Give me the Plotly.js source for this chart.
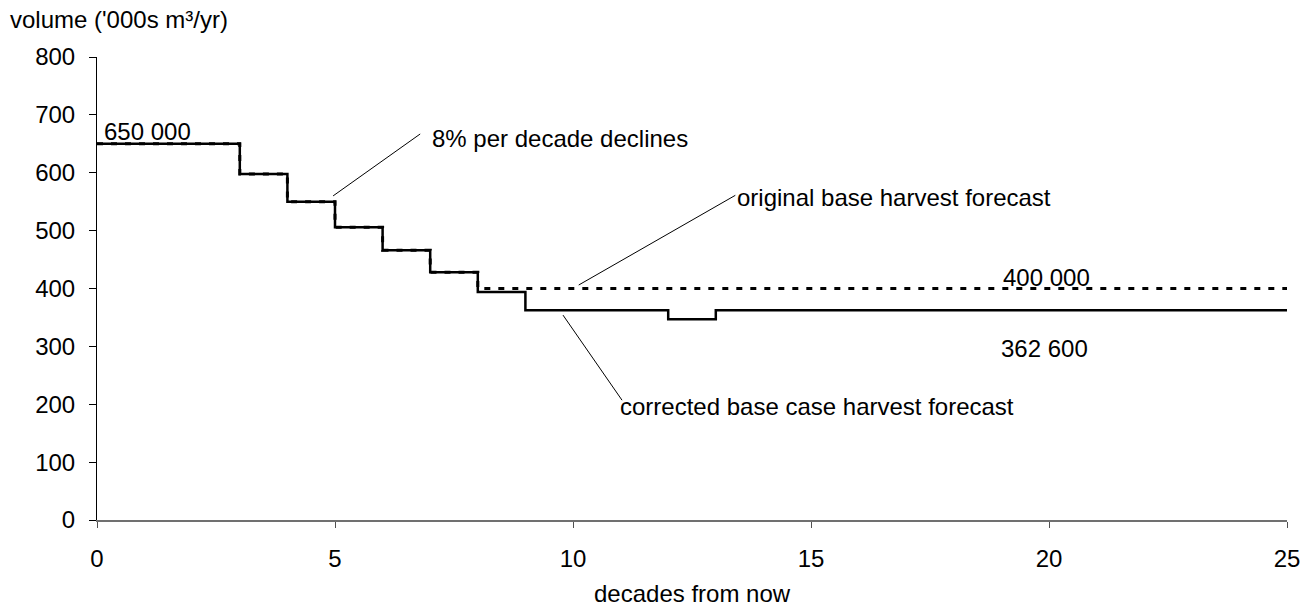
<!DOCTYPE html>
<html>
<head>
<meta charset="utf-8">
<script src="https://cdn.plot.ly/plotly-3.0.1.min.js"></script>
<style>
  html, body { margin: 0; padding: 0; background: #ffffff; }
  #chart { width: 1310px; height: 611px; }
</style>
</head>
<body>
<div id="chart"></div>
<script>
// Harvest forecasts, volume in thousands of m³ per year, by decade
const decadesOriginal = [0, 3, 4, 5, 6, 7, 8, 25];
const volumeOriginal  = [650, 598, 550, 506, 466, 428, 400, 400];

const decadesCorrected = [0, 3, 4, 5, 6, 7, 8, 9, 12, 13, 25];
const volumeCorrected  = [650, 598, 550, 506, 466, 428, 394, 362.6, 347, 362.6, 362.6];

const xTicks = [0, 5, 10, 15, 20, 25];
const yTicks = [0, 100, 200, 300, 400, 500, 600, 700, 800];

const FONT = '"Liberation Sans", Arial, sans-serif';
const FS = 24;

// Value labels (text, decade, volume, vertical shift in px)
const valueLabels = [
  { text: '650 000', x: 0.1, y: volumeOriginal[0], yshift: 12 },
  { text: '400 000', x: 19.0, y: volumeOriginal[volumeOriginal.length - 1], yshift: 11 },
  { text: '362 600', x: 18.94, y: volumeCorrected[volumeCorrected.length - 1], yshift: -38 }
];

// Callout texts with their leader lines (line from [x0,y0] to [x1,y1])
const callouts = [
  { text: '8% per decade declines', tx: 7.0, ty: 660, x0: 4.96, y0: 560, x1: 6.79, y1: 667 },
  { text: 'original base harvest forecast', tx: 13.41, ty: 558, x0: 10.12, y0: 406, x1: 13.41, y1: 561 },
  { text: 'corrected base case harvest forecast', tx: 10.95, ty: 196, x0: 9.79, y0: 354, x1: 11.03, y1: 207 }
];

const traces = [
  {
    x: decadesCorrected, y: volumeCorrected,
    type: 'scatter', mode: 'lines',
    line: { shape: 'hv', color: '#000000', width: 2.5 },
    name: 'corrected base case harvest forecast',
    hoverinfo: 'x+y'
  },
  {
    x: decadesOriginal, y: volumeOriginal,
    type: 'scatter', mode: 'lines',
    line: { shape: 'hv', color: '#000000', width: 3, dash: '6px,8px' },
    name: 'original base harvest forecast',
    hoverinfo: 'x+y'
  }
];

const annotations = [];
valueLabels.forEach(v => annotations.push({
  text: v.text, x: v.x, y: v.y, xref: 'x', yref: 'y',
  xanchor: 'left', yanchor: 'middle', yshift: v.yshift,
  showarrow: false, font: { family: FONT, size: FS, color: '#000' }
}));
callouts.forEach(c => annotations.push({
  text: c.text, x: c.tx, y: c.ty, xref: 'x', yref: 'y',
  xanchor: 'left', yanchor: 'middle',
  showarrow: false, font: { family: FONT, size: FS, color: '#000' }
}));

// Axis titles laid out as free text
annotations.push({
  text: "volume ('000s m³/yr)", xref: 'paper', yref: 'paper',
  x: -0.075, y: 1.08, xanchor: 'left', yanchor: 'middle',
  showarrow: false, font: { family: FONT, size: FS, color: '#000' }
});
annotations.push({
  text: 'decades from now', xref: 'paper', yref: 'paper',
  x: 0.5, y: -0.158, xanchor: 'center', yanchor: 'middle',
  showarrow: false, font: { family: FONT, size: FS, color: '#000' }
});

const shapes = callouts.map(c => ({
  type: 'line', xref: 'x', yref: 'y',
  x0: c.x0, y0: c.y0, x1: c.x1, y1: c.y1,
  line: { color: '#000000', width: 1 }
}));

const layout = {
  width: 1310, height: 611,
  margin: { l: 97, r: 23, t: 57, b: 91, pad: 0 },
  paper_bgcolor: '#ffffff', plot_bgcolor: '#ffffff',
  showlegend: false,
  font: { family: FONT, size: FS, color: '#000' },
  xaxis: {
    range: [0, 25], tickvals: xTicks, ticktext: xTicks.map(String),
    showgrid: false, zeroline: false,
    showline: true, linecolor: '#707070', linewidth: 1.5,
    ticks: 'outside', ticklen: 6, tickcolor: '#505050', tickwidth: 1,
    ticklabelstandoff: 11,
    tickfont: { family: FONT, size: FS, color: '#000' }
  },
  yaxis: {
    range: [0, 800], tickvals: yTicks, ticktext: yTicks.map(String),
    showgrid: false, zeroline: false,
    showline: true, linecolor: '#000000', linewidth: 1,
    ticks: 'outside', ticklen: 7, tickcolor: '#000', tickwidth: 1,
    ticklabelstandoff: 9,
    tickfont: { family: FONT, size: FS, color: '#000' }
  },
  annotations: annotations,
  shapes: shapes
};

Plotly.newPlot('chart', traces, layout, { displayModeBar: false, staticPlot: true });
</script>
</body>
</html>
